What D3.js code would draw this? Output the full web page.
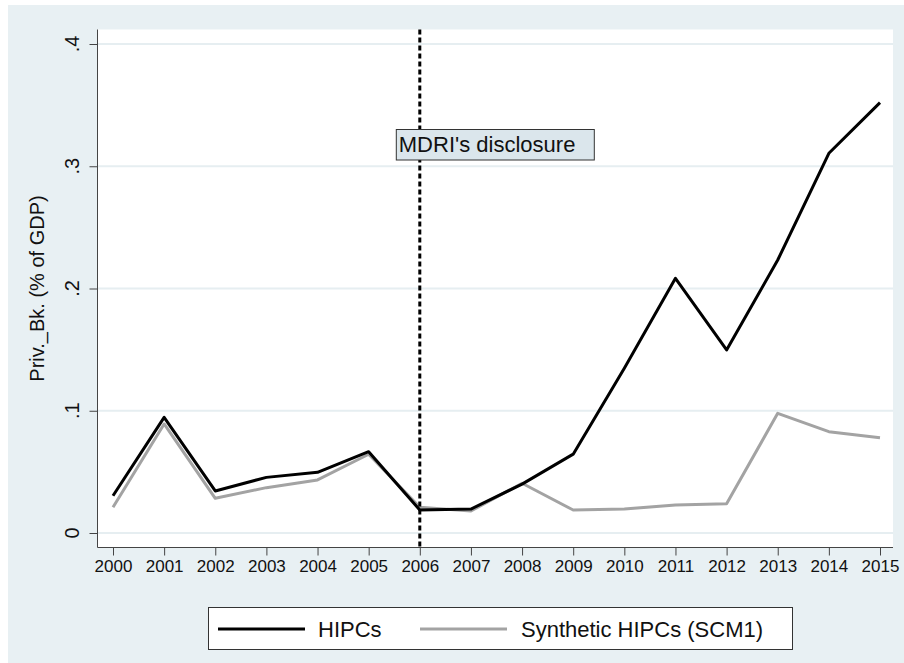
<!DOCTYPE html>
<html>
<head>
<meta charset="utf-8">
<script src="https://cdn.jsdelivr.net/npm/d3@7"></script>
<style>
  html, body { margin: 0; padding: 0; background: #ffffff; }
  svg { display: block; font-family: "Liberation Sans", Arial, sans-serif; }
</style>
</head>
<body>
<svg id="chart" width="904" height="663"></svg>
<script>
// Private bank credit (% of GDP): HIPCs vs. synthetic control
const years = [2000, 2001, 2002, 2003, 2004, 2005, 2006, 2007,
               2008, 2009, 2010, 2011, 2012, 2013, 2014, 2015];
const hipcs = [0.0305, 0.0946, 0.0344, 0.0455, 0.0496, 0.0665, 0.0188, 0.0196,
               0.0400, 0.0645, 0.1347, 0.2083, 0.1497, 0.2233, 0.3106, 0.3520];
const synthetic = [0.0210, 0.0892, 0.0284, 0.0371, 0.0434, 0.0644, 0.0210, 0.0180,
                   0.0407, 0.0188, 0.0196, 0.0229, 0.0240, 0.0979, 0.0829, 0.0780];
const yTicks = [0, 0.1, 0.2, 0.3, 0.4];
const yTickLabels = ["0", ".1", ".2", ".3", ".4"];
const eventYear = 2006;
const eventLabel = "MDRI's disclosure";
const yTitle = "Priv._Bk. (% of GDP)";
const seriesNames = ["HIPCs", "Synthetic HIPCs (SCM1)"];

const svg = d3.select("#chart");
const W = 904, H = 663;
const bg = "#e8f0f3";

// outer graph region
svg.append("rect").attr("x", 8).attr("y", 5).attr("width", W - 8).attr("height", H - 5)
  .attr("fill", bg);

// plot region
const plot = { left: 97.5, right: 893, top: 29.5, bottom: 547.5 };
svg.append("rect")
  .attr("x", plot.left).attr("y", plot.top)
  .attr("width", plot.right - plot.left).attr("height", plot.bottom - plot.top)
  .attr("fill", "#ffffff");

const x = d3.scaleLinear().domain([2000, 2015]).range([113, 880]);
const y = d3.scaleLinear().domain([0, 0.4]).range([533, 44]);

// horizontal grid
svg.append("g").selectAll("line").data(yTicks).join("line")
  .attr("x1", plot.left).attr("x2", plot.right)
  .attr("y1", d => y(d)).attr("y2", d => y(d))
  .attr("stroke", "#e6eef1").attr("stroke-width", 2);

// y axis
const yAxis = d3.axisLeft(y).tickValues(yTicks).tickSize(8).tickFormat("");
const gy = svg.append("g").attr("transform", `translate(${plot.left},0)`).call(yAxis);
gy.select(".domain").attr("d", `M0,${plot.top}V${plot.bottom}`).attr("stroke", "#444");
gy.selectAll(".tick line").attr("stroke", "#444");
svg.append("g").selectAll("text").data(yTicks).join("text")
  .attr("transform", (d) => `translate(79,${y(d)}) rotate(-90)`)
  .attr("text-anchor", "middle")
  .attr("font-size", 20).attr("fill", "#111")
  .text((d, i) => yTickLabels[i]);

// x axis
const xAxis = d3.axisBottom(x).tickValues(years).tickSize(8).tickFormat(d3.format("d"));
const gx = svg.append("g").attr("transform", `translate(0,${plot.bottom})`).call(xAxis);
gx.select(".domain").attr("d", `M${plot.left},0H${plot.right}`).attr("stroke", "#444");
gx.selectAll(".tick line").attr("stroke", "#444");
gx.selectAll(".tick text").attr("y", 12).attr("dy", "0.71em")
  .attr("font-size", 17).attr("fill", "#111")
  .attr("font-family", "'Liberation Sans', Arial, sans-serif");

// y title
svg.append("text")
  .attr("transform", `translate(44,${(plot.top + plot.bottom) / 2}) rotate(-90)`)
  .attr("text-anchor", "middle").attr("font-size", 20).attr("fill", "#111")
  .text(yTitle);

// series lines
const line = d3.line().x((d, i) => x(years[i])).y(d => y(d));
svg.append("path").datum(synthetic).attr("d", line)
  .attr("fill", "none").attr("stroke", "#a3a3a3").attr("stroke-width", 3)
  .attr("stroke-linejoin", "round");
svg.append("path").datum(hipcs).attr("d", line)
  .attr("fill", "none").attr("stroke", "#000").attr("stroke-width", 3)
  .attr("stroke-linejoin", "round");

// event marker
svg.append("line")
  .attr("x1", x(eventYear)).attr("x2", x(eventYear))
  .attr("y1", plot.top).attr("y2", plot.bottom)
  .attr("stroke", "#000").attr("stroke-width", 3)
  .attr("stroke-dasharray", "5,3");

const lbl = svg.append("g");
lbl.append("rect")
  .attr("x", x(eventYear) - 23.5).attr("y", 129.5)
  .attr("width", 198).attr("height", 30.5)
  .attr("fill", "#dbe6ec").attr("stroke", "#333").attr("stroke-width", 1);
lbl.append("text")
  .attr("x", x(eventYear) - 21).attr("y", 152)
  .attr("font-size", 22).attr("fill", "#111")
  .text(eventLabel);

// legend
const leg = svg.append("g");
leg.append("rect").attr("x", 208.5).attr("y", 607.5).attr("width", 584).attr("height", 42)
  .attr("fill", "#fff").attr("stroke", "#333").attr("stroke-width", 1);
const legItems = [
  { name: seriesNames[0], color: "#000", x0: 218, tx: 318 },
  { name: seriesNames[1], color: "#a3a3a3", x0: 420, tx: 521 }
];
leg.selectAll("line").data(legItems).join("line")
  .attr("x1", d => d.x0).attr("x2", d => d.x0 + 87)
  .attr("y1", 629).attr("y2", 629)
  .attr("stroke", d => d.color).attr("stroke-width", 3);
leg.selectAll("text").data(legItems).join("text")
  .attr("x", d => d.tx).attr("y", 637)
  .attr("font-size", 22).attr("fill", "#111")
  .text(d => d.name);
</script>
</body>
</html>
